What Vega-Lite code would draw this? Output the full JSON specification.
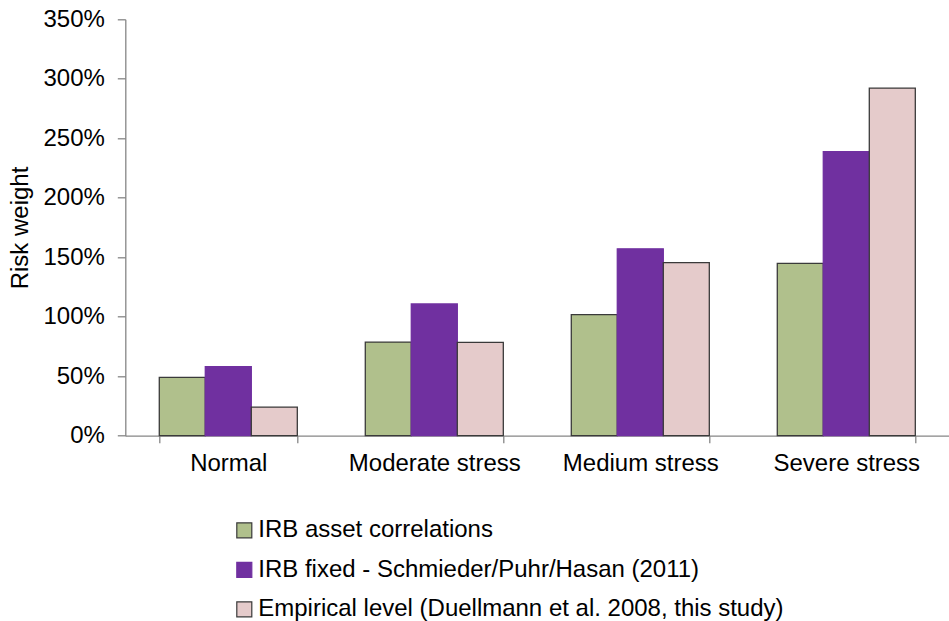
{
  "$schema": "https://vega.github.io/schema/vega-lite/v6.json",
  "width": 824,
  "height": 416.4,
  "autosize": {"type": "none"},
  "padding": {"left": 125.3, "top": 19.3, "right": 0, "bottom": 185.3},
  "background": "white",
  "config": {
    "font": "Liberation Sans",
    "view": {"stroke": null},
    "axis": {"labelColor": "#000000", "titleColor": "#000000", "domainColor": "#868686", "tickColor": "#868686", "domainWidth": 1.3, "tickWidth": 1.3}
  },
  "data": {
    "values": [
      {"scenario": "Normal", "series": "IRB asset correlations", "risk_weight": 0.491},
      {"scenario": "Normal", "series": "IRB fixed - Schmieder/Puhr/Hasan (2011)", "risk_weight": 0.580},
      {"scenario": "Normal", "series": "Empirical level (Duellmann et al. 2008, this study)", "risk_weight": 0.241},
      {"scenario": "Moderate stress", "series": "IRB asset correlations", "risk_weight": 0.787},
      {"scenario": "Moderate stress", "series": "IRB fixed - Schmieder/Puhr/Hasan (2011)", "risk_weight": 1.107},
      {"scenario": "Moderate stress", "series": "Empirical level (Duellmann et al. 2008, this study)", "risk_weight": 0.785},
      {"scenario": "Medium stress", "series": "IRB asset correlations", "risk_weight": 1.017},
      {"scenario": "Medium stress", "series": "IRB fixed - Schmieder/Puhr/Hasan (2011)", "risk_weight": 1.571},
      {"scenario": "Medium stress", "series": "Empirical level (Duellmann et al. 2008, this study)", "risk_weight": 1.454},
      {"scenario": "Severe stress", "series": "IRB asset correlations", "risk_weight": 1.449},
      {"scenario": "Severe stress", "series": "IRB fixed - Schmieder/Puhr/Hasan (2011)", "risk_weight": 2.387},
      {"scenario": "Severe stress", "series": "Empirical level (Duellmann et al. 2008, this study)", "risk_weight": 2.922}
    ]
  },
  "mark": {"type": "bar", "strokeWidth": 1.3},
  "encoding": {
    "x": {
      "field": "scenario",
      "type": "nominal",
      "sort": ["Normal", "Moderate stress", "Medium stress", "Severe stress"],
      "scale": {"paddingInner": 0.33, "paddingOuter": 0.165},
      "axis": {
        "title": null,
        "labelAngle": 0,
        "labelFontSize": 24,
        "labelPadding": 9,
        "ticks": true,
        "tickBand": "extent",
        "tickSize": 7
      }
    },
    "xOffset": {
      "field": "series",
      "sort": ["IRB asset correlations", "IRB fixed - Schmieder/Puhr/Hasan (2011)", "Empirical level (Duellmann et al. 2008, this study)"],
      "scale": {"paddingInner": 0, "paddingOuter": 0}
    },
    "y": {
      "field": "risk_weight",
      "type": "quantitative",
      "scale": {"domain": [0, 3.5], "nice": false},
      "axis": {
        "title": "Risk weight",
        "titleFontSize": 24,
        "titleFontWeight": "normal",
        "titlePadding": 10,
        "values": [0, 0.5, 1, 1.5, 2, 2.5, 3, 3.5],
        "format": ".0%",
        "labelFontSize": 24,
        "labelPadding": 13,
        "tickSize": 8,
        "grid": false
      }
    },
    "color": {
      "field": "series",
      "type": "nominal",
      "sort": ["IRB asset correlations", "IRB fixed - Schmieder/Puhr/Hasan (2011)", "Empirical level (Duellmann et al. 2008, this study)"],
      "scale": {"range": ["#B0C08C", "#7030A0", "#E5CBCB"]},
      "legend": {
        "title": null,
        "orient": "none",
        "legendX": 107,
        "legendY": 499,
        "direction": "vertical",
        "symbolType": "square",
        "symbolSize": 225,
        "symbolOpacity": 1,
        "labelFontSize": 24,
        "labelColor": "#000000",
        "labelOffset": 2,
        "labelLimit": 700,
        "rowPadding": 15.5,
        "padding": 0,
        "offset": 0,
        "encode": {
          "symbols": {
            "update": {
              "stroke": {"scale": "stroke", "field": "value"},
              "strokeWidth": {"value": 1.2}
            }
          }
        }
      }
    },
    "stroke": {
      "field": "series",
      "type": "nominal",
      "sort": ["IRB asset correlations", "IRB fixed - Schmieder/Puhr/Hasan (2011)", "Empirical level (Duellmann et al. 2008, this study)"],
      "scale": {"range": ["#3A3A3A", "#7030A0", "#3A3A3A"]},
      "legend": null
    }
  }
}
